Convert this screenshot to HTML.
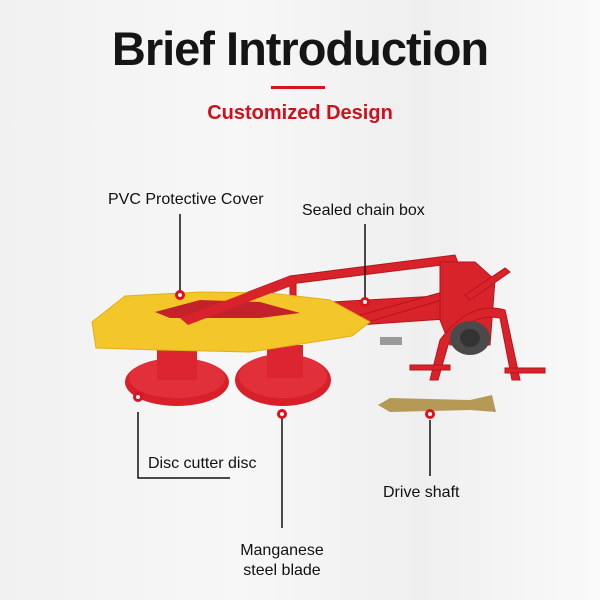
<!DOCTYPE html>
<html><head><style>
body{margin:0}
.w{width:600px;height:600px;position:relative;overflow:hidden;background:linear-gradient(90deg,#f1f1f1 0%,#f7f7f7 40%,#efefef 70%,#fafafa 100%);font-family:"Liberation Sans",sans-serif}
.t{position:absolute;left:0;width:600px;text-align:center}
</style></head><body><div class="w">
<div class="t" style="top:21px;font-size:47px;font-weight:bold;color:#151515;letter-spacing:-1px">Brief Introduction</div>
<div style="position:absolute;left:271px;top:86px;width:54px;height:3px;background:#d7141f"></div>
<div class="t" style="top:102px;font-size:20px;font-weight:bold;color:#d0101c">Customized Design</div>
<svg width="600" height="600" style="position:absolute;left:0;top:0" font-family="Liberation Sans, sans-serif" font-size="16" fill="#111">
<g fill="#d9232a" stroke="#b5151c" stroke-width="1">
<polygon points="180,318 290,276 300,282 188,325"/>
<polygon points="290,276 455,255 458,263 298,283"/>
<rect x="290" y="280" width="6" height="40"/>
<polygon points="280,305 455,295 460,318 285,330"/>
<polygon points="350,318 450,290 455,296 355,326"/>
<polygon points="440,262 475,262 495,280 490,345 450,345 440,320"/>
<polygon points="465,295 505,268 510,272 470,300"/>
<path d="M430,380 L440,340 Q470,300 505,310 L520,380 L512,380 L500,318 Q470,312 448,345 L438,380Z"/>
<rect x="410" y="365" width="40" height="5"/><rect x="505" y="368" width="40" height="5"/>
</g>
<ellipse cx="470" cy="338" rx="20" ry="17" fill="#4a4a4a"/>
<ellipse cx="470" cy="338" rx="10" ry="9" fill="#333"/>
<rect x="380" y="337" width="22" height="8" fill="#999"/>
<ellipse cx="177" cy="382" rx="52" ry="24" fill="#d8202a"/>
<ellipse cx="177" cy="378" rx="48" ry="20" fill="#e2303a"/>
<rect x="157" y="345" width="40" height="35" fill="#dc2530"/>
<ellipse cx="283" cy="380" rx="48" ry="26" fill="#d8202a"/>
<ellipse cx="283" cy="376" rx="44" ry="22" fill="#e2303a"/>
<rect x="267" y="345" width="36" height="33" fill="#dc2530"/>
<polygon points="92,322 125,296 200,292 270,293 330,300 370,322 352,336 250,352 160,350 96,348" fill="#f3c62a" stroke="#e0b01a"/>
<polygon points="155,312 200,300 260,302 300,313 260,318 170,318" fill="#c4222a"/>
<polygon points="180,318 290,276 300,282 188,325" fill="#d9232a"/>
<polygon points="378,405 390,398 470,400 492,395 496,412 470,410 390,412" fill="#b59a55"/>
<g stroke="#111" stroke-width="1.5" fill="none">
<line x1="180" y1="214" x2="180" y2="292"/>
<line x1="365" y1="224" x2="365" y2="298"/>
<polyline points="138,412 138,478 230,478"/>
<line x1="282" y1="418" x2="282" y2="528"/>
<line x1="430" y1="420" x2="430" y2="476"/>
</g>
<g fill="#fff" stroke="#e0101c" stroke-width="3">
<circle cx="180" cy="295" r="3.5"/><circle cx="365" cy="302" r="3.5"/>
<circle cx="138" cy="397" r="3.5"/><circle cx="282" cy="414" r="3.5"/><circle cx="430" cy="414" r="3.5"/>
</g>
<text x="108" y="204">PVC Protective Cover</text>
<text x="302" y="215">Sealed chain box</text>
<text x="148" y="468">Disc cutter disc</text>
<text x="383" y="497">Drive shaft</text>
<text x="282" y="555" text-anchor="middle">Manganese</text>
<text x="282" y="575" text-anchor="middle">steel blade</text>
</svg>
</div></body></html>
